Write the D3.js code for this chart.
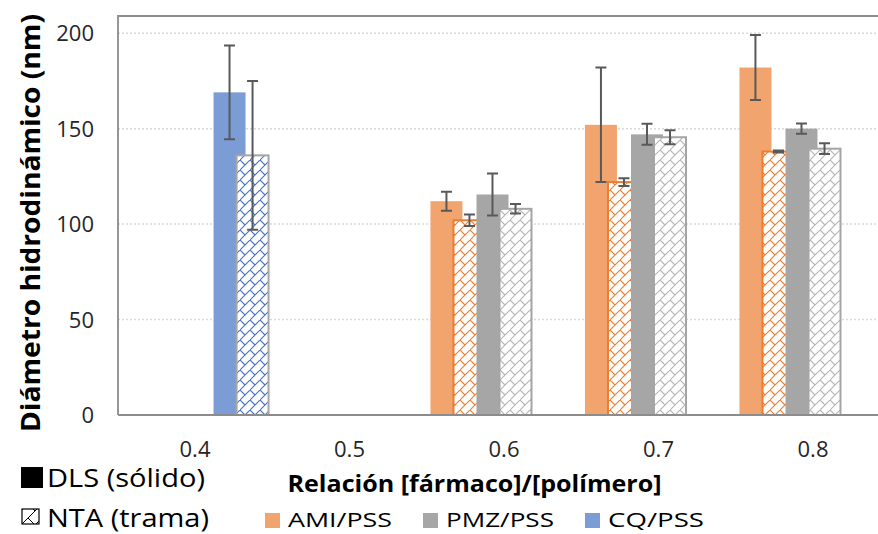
<!DOCTYPE html>
<html>
<head>
<meta charset="utf-8">
<script src="https://cdn.jsdelivr.net/npm/d3@7"></script>
<style>
  html, body { margin: 0; padding: 0; background: #fff; }
  svg { display: block; font-family: "Open Sans", "Noto Sans", sans-serif; }
</style>
</head>
<body>
<svg id="chart" width="878" height="534"></svg>
<script>
// Ratio categories on the x axis
const categories = ["0.4", "0.5", "0.6", "0.7", "0.8"];
const yTicks = [0, 50, 100, 150, 200];

// Hydrodynamic diameter (nm) and error, DLS = solid, NTA = patterned
const amiDLS    = [null, null, 112, 152, 182];
const amiDLSErr = [null, null, 5, 30, 17];
const amiNTA    = [null, null, 102, 122, 138];
const amiNTAErr = [null, null, 3, 2, 0.5];
const pmzDLS    = [null, null, 115.5, 147, 150];
const pmzDLSErr = [null, null, 11, 5.5, 2.7];
const pmzNTA    = [null, null, 108, 145.5, 139.5];
const pmzNTAErr = [null, null, 2.5, 3.7, 2.8];
const cqDLS     = [169, null, null, null, null];
const cqDLSErr  = [24.5, null, null, null, null];
const cqNTA     = [136, null, null, null, null];
const cqNTAErr  = [39, null, null, null, null];

const legendItems = ["AMI/PSS", "PMZ/PSS", "CQ/PSS"];

const colors = {
  amiSolid: "#F2A46F", amiLine: "#ED7D31",
  pmzSolid: "#A6A6A6", pmzLine: "#A5A5A5",
  cqSolid: "#7C9CD6",  cqLine: "#4472C4"
};

// Series in drawing order (later ones overlap earlier ones)
const series = [
  { values: amiDLS, errs: amiDLSErr, kind: "solid", fill: colors.amiSolid },
  { values: amiNTA, errs: amiNTAErr, kind: "hatch", pat: "hatchAmi", stroke: colors.amiLine },
  { values: pmzDLS, errs: pmzDLSErr, kind: "solid", fill: colors.pmzSolid },
  { values: pmzNTA, errs: pmzNTAErr, kind: "hatch", pat: "hatchPmz", stroke: colors.pmzLine },
  { values: cqDLS,  errs: cqDLSErr,  kind: "solid", fill: colors.cqSolid },
  { values: cqNTA,  errs: cqNTAErr,  kind: "hatch", pat: "hatchCq", stroke: colors.pmzLine }
];

const svg = d3.select("#chart");
const plot = { left: 118, top: 16, right: 890, bottom: 415 };

const x = d3.scaleBand().domain(categories).range([117.75, 890.25]).padding(0);
const y = d3.scaleLinear().domain([0, 209]).range([plot.bottom, plot.top]);

const bw = x.bandwidth();
const step = bw * 0.149;
const barW = bw * 0.207;
const offset = i => (i - (series.length - 1) / 2) * step;

// Diagonal brick patterns
const defs = svg.append("defs");
function brick(id, color, sw, size) {
  const p = defs.append("pattern").attr("id", id)
    .attr("patternUnits", "userSpaceOnUse").attr("width", size).attr("height", size);
  p.append("rect").attr("width", size).attr("height", size).attr("fill", "#fff");
  p.append("path").attr("d", `M-1,${size + 1} L${size + 1},-1 M0,0 L${size / 2},${size / 2}`)
    .attr("stroke", color).attr("stroke-width", sw).attr("fill", "none");
}
brick("hatchAmi", colors.amiLine, 1.1, 10);
brick("hatchPmz", "#B5B5B5", 1.1, 10);
brick("hatchCq", colors.cqLine, 1.1, 10);
brick("hatchKey", "#000", 1, 14);

// Gridlines
svg.append("g").selectAll("line").data(yTicks.filter(d => d > 0)).join("line")
  .attr("x1", plot.left).attr("x2", 878)
  .attr("y1", d => y(d)).attr("y2", d => y(d))
  .attr("stroke", "#D9D9D9").attr("stroke-width", 1.5).attr("stroke-dasharray", "2,2");

// Plot frame
svg.append("path")
  .attr("d", `M${plot.left},${plot.bottom} V${plot.top} H880`)
  .attr("fill", "none").attr("stroke", "#8C8C8C").attr("stroke-width", 1.8);

// Bars
series.forEach((s, i) => {
  const data = categories.map((c, j) => ({ c, v: s.values[j], e: s.errs[j] })).filter(d => d.v != null);
  const g = svg.append("g");
  const r = g.selectAll("rect").data(data).join("rect")
    .attr("x", d => x(d.c) + bw / 2 + offset(i) - barW / 2)
    .attr("width", barW)
    .attr("y", d => y(d.v))
    .attr("height", d => y(0) - y(d.v));
  if (s.kind === "solid") {
    r.attr("fill", s.fill);
  } else {
    r.attr("fill", `url(#${s.pat})`).attr("stroke", s.stroke).attr("stroke-width", 2);
  }
});

// Error bars on top
const cap = 5.5;
series.forEach((s, i) => {
  const data = categories.map((c, j) => ({ c, v: s.values[j], e: s.errs[j] })).filter(d => d.v != null);
  const g = svg.append("g").attr("stroke", "#595959").attr("stroke-width", 2).attr("fill", "none");
  data.forEach(d => {
    const cx = x(d.c) + bw / 2 + offset(i);
    const y1 = y(d.v + d.e), y0 = y(d.v - d.e);
    g.append("path").attr("d",
      `M${cx},${y1} V${y0} M${cx - cap},${y1} H${cx + cap} M${cx - cap},${y0} H${cx + cap}`);
  });
});

// X axis line
svg.append("line").attr("x1", plot.left).attr("x2", 878)
  .attr("y1", plot.bottom).attr("y2", plot.bottom)
  .attr("stroke", "#8C8C8C").attr("stroke-width", 2);

// Y axis labels
const yAxis = d3.axisLeft(y).tickValues(yTicks).tickSize(0).tickPadding(0);
const yg = svg.append("g").attr("transform", "translate(94,0)").call(yAxis);
yg.select(".domain").remove();
yg.selectAll("text").attr("font-size", 22).attr("fill", "#262626")
  .attr("font-family", "'Open Sans', sans-serif").attr("dy", "0.35em");

// X axis labels
const xAxis = d3.axisBottom(x).tickSize(0).tickPadding(0);
const xg = svg.append("g").attr("transform", `translate(0,${plot.bottom})`).call(xAxis);
xg.select(".domain").remove();
xg.selectAll("text").attr("font-size", 22).attr("fill", "#262626")
  .attr("font-family", "'Open Sans', sans-serif").attr("y", 42).attr("dy", 0);

// Axis titles
svg.append("text").attr("transform", "translate(40,223) rotate(-90)")
  .attr("text-anchor", "middle").attr("font-size", 27).attr("font-weight", "bold")
  .attr("textLength", 418).attr("lengthAdjust", "spacingAndGlyphs")
  .attr("fill", "#000").text("Diámetro hidrodinámico (nm)");

svg.append("text").attr("x", 474.5).attr("y", 492)
  .attr("text-anchor", "middle").attr("font-size", 23).attr("font-weight", "bold")
  .attr("textLength", 374).attr("lengthAdjust", "spacingAndGlyphs")
  .attr("fill", "#000").text("Relación [fármaco]/[polímero]");

// DLS / NTA key
svg.append("rect").attr("x", 21).attr("y", 467).attr("width", 22).attr("height", 21).attr("fill", "#000");
svg.append("text").attr("x", 47).attr("y", 487).attr("font-size", 26)
  .attr("textLength", 158).attr("lengthAdjust", "spacingAndGlyphs")
  .attr("fill", "#000").text("DLS (sólido)");
svg.append("rect").attr("x", 22).attr("y", 509).attr("width", 17).attr("height", 15)
  .attr("fill", "url(#hatchKey)").attr("stroke", "#000").attr("stroke-width", 1.2);
svg.append("text").attr("x", 47).attr("y", 527).attr("font-size", 25)
  .attr("textLength", 162).attr("lengthAdjust", "spacingAndGlyphs")
  .attr("fill", "#000").text("NTA (trama)");

// Series legend
const legendX = [265, 423, 585];
const legendW = [104, 108, 96];
const legendColors = [colors.amiSolid, colors.pmzSolid, colors.cqSolid];
const lg = svg.append("g");
legendItems.forEach((name, i) => {
  lg.append("rect").attr("x", legendX[i]).attr("y", 513).attr("width", 15).attr("height", 15).attr("fill", legendColors[i]);
  lg.append("text").attr("x", legendX[i] + 23).attr("y", 527).attr("font-size", 20.5)
    .attr("textLength", legendW[i]).attr("lengthAdjust", "spacingAndGlyphs")
    .attr("fill", "#000").text(name);
});
</script>
</body>
</html>
